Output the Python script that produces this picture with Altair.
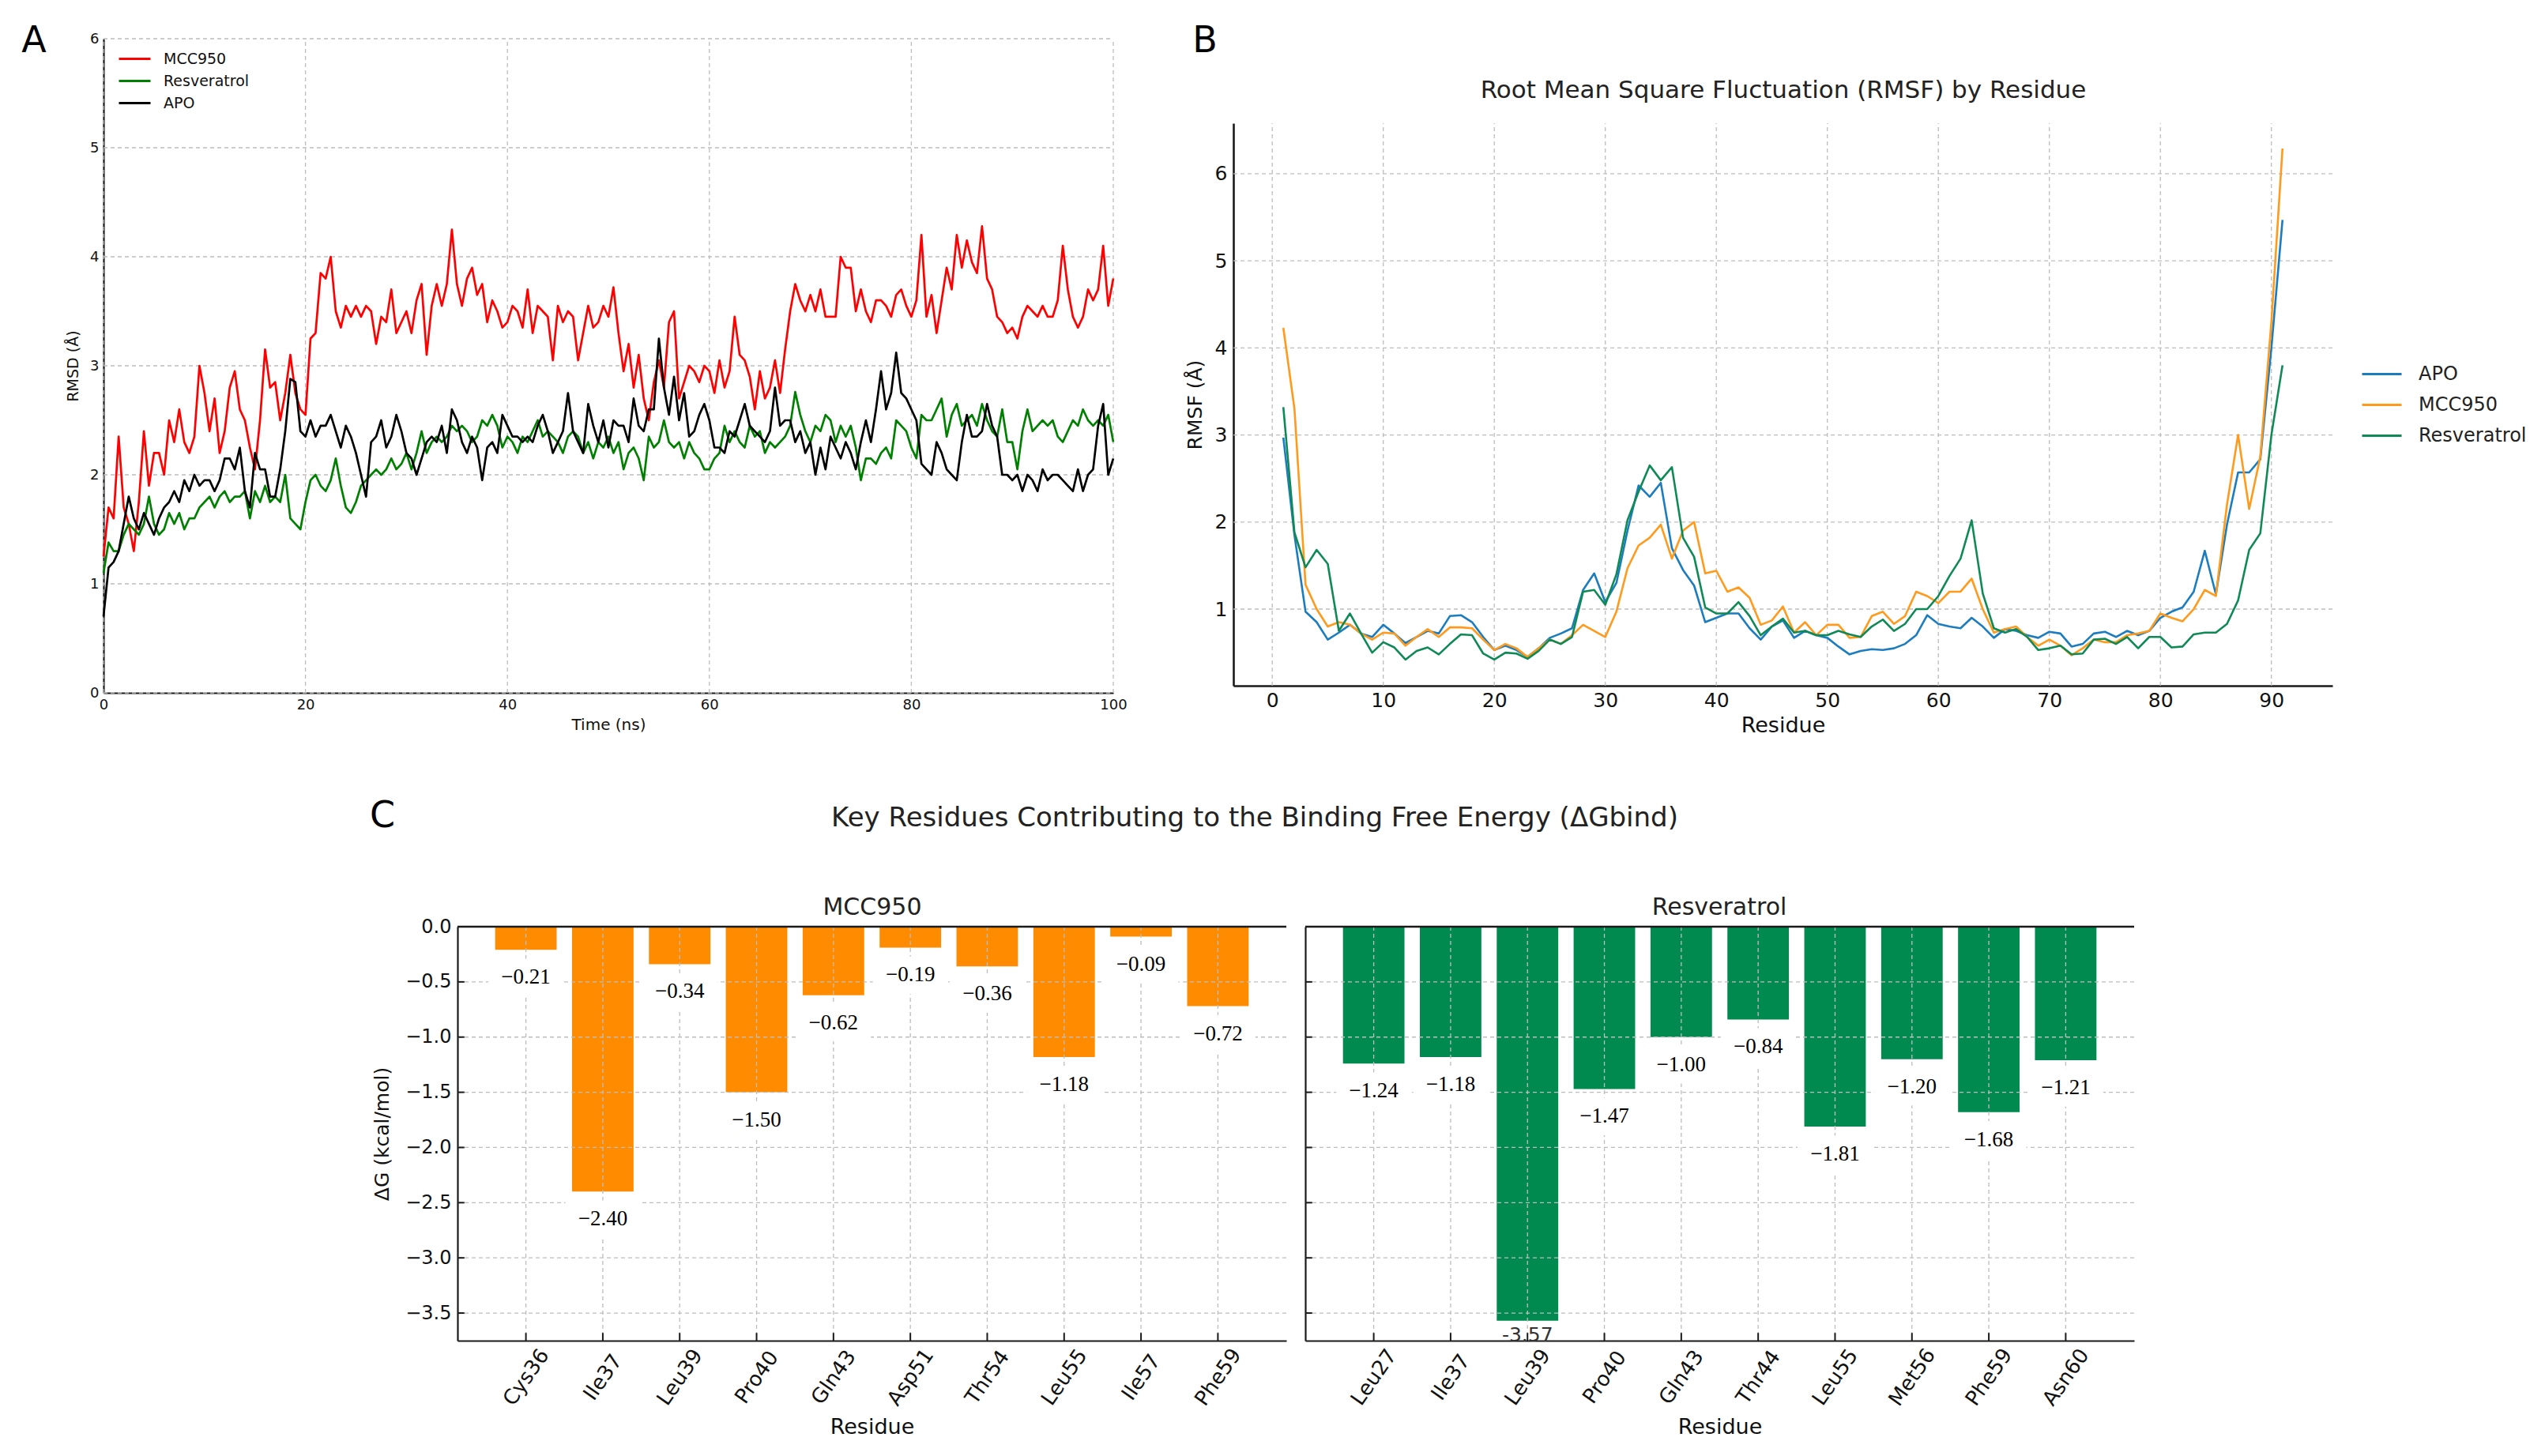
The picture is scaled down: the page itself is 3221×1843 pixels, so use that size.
import altair as alt
import pandas as pd

W, H = 3205, 1818
FONT = "DejaVu Sans"
SERIF = "Liberation Serif"
GRID = "#bdbdbd"

# ---------------- Panel A : RMSD time series (0.5 ns sampling) ----------------
rmsd_step_ns = 0.5
rmsd_mcc950 = [
    1.25, 1.7, 1.6, 2.35, 1.7, 1.55, 1.3, 1.75, 2.4, 1.9,
    2.2, 2.2, 2.0, 2.5, 2.3, 2.6, 2.3, 2.2, 2.35, 3.0,
    2.75, 2.4, 2.7, 2.2, 2.4, 2.8, 2.95, 2.6, 2.5, 2.25,
    2.05, 2.5, 3.15, 2.8, 2.85, 2.5, 2.75, 3.1, 2.75, 2.6,
    2.55, 3.25, 3.3, 3.85, 3.8, 4.0, 3.5, 3.35, 3.55, 3.45,
    3.55, 3.45, 3.55, 3.5, 3.2, 3.45, 3.4, 3.7, 3.3, 3.4,
    3.5, 3.3, 3.6, 3.75, 3.1, 3.55, 3.75, 3.55, 3.75, 4.25,
    3.75, 3.55, 3.8, 3.9, 3.65, 3.75, 3.4, 3.6, 3.5, 3.35,
    3.4, 3.55, 3.5, 3.35, 3.7, 3.3, 3.55, 3.5, 3.45, 3.05,
    3.55, 3.4, 3.5, 3.45, 3.05, 3.3, 3.55, 3.35, 3.4, 3.55,
    3.45, 3.72, 3.3, 2.95, 3.2, 2.8, 3.1, 2.7, 2.5, 2.85,
    3.05, 2.8, 3.4, 3.5, 2.7, 2.85, 3.0, 2.95, 2.85, 3.0,
    2.95, 2.75, 3.05, 2.8, 2.95, 3.45, 3.1, 3.05, 2.9, 2.6,
    2.95, 2.7, 2.8, 3.05, 2.75, 3.15, 3.5, 3.75, 3.6, 3.5,
    3.65, 3.5, 3.7, 3.45, 3.45, 3.45, 4.0, 3.9, 3.9, 3.5,
    3.7, 3.5, 3.4, 3.6, 3.6, 3.55, 3.45, 3.65, 3.7, 3.55,
    3.45, 3.6, 4.2, 3.45, 3.65, 3.3, 3.6, 3.9, 3.7, 4.2,
    3.9, 4.15, 3.95, 3.85, 4.28, 3.8, 3.7, 3.45, 3.4, 3.3,
    3.35, 3.25, 3.45, 3.55, 3.5, 3.45, 3.55, 3.45, 3.45, 3.6,
    4.1, 3.7, 3.45, 3.35, 3.45, 3.7, 3.6, 3.7, 4.1, 3.55,
    3.8,
]
rmsd_resveratrol = [
    1.1, 1.38, 1.3, 1.3, 1.45, 1.55, 1.5, 1.45, 1.55, 1.8,
    1.55, 1.45, 1.5, 1.65, 1.55, 1.65, 1.5, 1.6, 1.6, 1.7,
    1.75, 1.8, 1.7, 1.8, 1.85, 1.75, 1.8, 1.8, 1.85, 1.6,
    1.85, 1.75, 1.9, 1.75, 1.8, 1.75, 2.0, 1.6, 1.55, 1.5,
    1.75, 1.95, 2.0, 1.9, 1.85, 1.95, 2.15, 1.9, 1.7, 1.65,
    1.75, 1.9, 1.95, 2.0, 2.05, 2.0, 2.05, 2.15, 2.05, 2.1,
    2.2, 2.05, 2.2, 2.4, 2.2, 2.3, 2.35, 2.3, 2.35, 2.45,
    2.4, 2.45, 2.4, 2.3, 2.35, 2.5, 2.45, 2.55, 2.45, 2.25,
    2.35, 2.3, 2.2, 2.35, 2.3, 2.4, 2.5, 2.35, 2.4, 2.35,
    2.3, 2.2, 2.35, 2.4, 2.35, 2.2, 2.3, 2.15, 2.3, 2.25,
    2.35, 2.2, 2.3, 2.05, 2.2, 2.25, 2.15, 1.95, 2.35, 2.25,
    2.3, 2.5, 2.3, 2.25, 2.3, 2.15, 2.3, 2.2, 2.15, 2.05,
    2.05, 2.15, 2.2, 2.45, 2.3, 2.4, 2.3, 2.25, 2.45, 2.35,
    2.4, 2.2, 2.3, 2.25, 2.3, 2.35, 2.45, 2.76, 2.55, 2.4,
    2.3, 2.45, 2.4, 2.55, 2.5, 2.3, 2.45, 2.35, 2.45, 2.25,
    1.95, 2.15, 2.15, 2.1, 2.2, 2.25, 2.15, 2.5, 2.45, 2.4,
    2.25, 2.15, 2.55, 2.5, 2.5, 2.6, 2.7, 2.35, 2.55, 2.65,
    2.45, 2.5, 2.55, 2.45, 2.65, 2.5, 2.4, 2.35, 2.6, 2.3,
    2.3, 2.05, 2.4, 2.6, 2.4, 2.45, 2.5, 2.45, 2.5, 2.35,
    2.3, 2.4, 2.5, 2.45, 2.6, 2.5, 2.45, 2.5, 2.45, 2.55,
    2.3,
]
rmsd_apo = [
    0.7, 1.15, 1.2, 1.3, 1.55, 1.8, 1.6, 1.5, 1.65, 1.55,
    1.45, 1.6, 1.7, 1.75, 1.85, 1.75, 1.95, 1.85, 2.0, 1.9,
    1.95, 1.95, 1.85, 1.95, 2.15, 2.15, 2.05, 2.25, 1.85, 1.7,
    2.2, 2.05, 2.05, 1.8, 1.8, 2.05, 2.4, 2.88, 2.85, 2.4,
    2.35, 2.5, 2.35, 2.45, 2.45, 2.55, 2.4, 2.25, 2.45, 2.35,
    2.2, 2.0, 1.8, 2.3, 2.35, 2.5, 2.25, 2.35, 2.55, 2.4,
    2.2, 2.15, 2.0, 2.15, 2.3, 2.35, 2.3, 2.45, 2.2, 2.6,
    2.5, 2.3, 2.2, 2.35, 2.25, 1.95, 2.25, 2.3, 2.2, 2.55,
    2.45, 2.35, 2.35, 2.3, 2.35, 2.3, 2.45, 2.55, 2.4, 2.2,
    2.3, 2.4, 2.75, 2.4, 2.3, 2.2, 2.65, 2.45, 2.3, 2.5,
    2.25, 2.5, 2.45, 2.45, 2.3, 2.7, 2.45, 2.4, 2.6, 2.6,
    3.25, 2.8, 2.55, 2.9, 2.5, 2.75, 2.35, 2.4, 2.55, 2.65,
    2.5, 2.25, 2.25, 2.2, 2.4, 2.35, 2.5, 2.65, 2.45, 2.4,
    2.35, 2.3, 2.4, 2.8, 2.45, 2.5, 2.5, 2.3, 2.4, 2.2,
    2.3, 2.0, 2.25, 2.05, 2.35, 2.25, 2.15, 2.3, 2.2, 2.05,
    2.3, 2.5, 2.3, 2.6, 2.95, 2.6, 2.75, 3.12, 2.75, 2.7,
    2.6, 2.5, 2.1, 2.05, 2.0, 2.3, 2.2, 2.05, 2.0, 1.95,
    2.3, 2.55, 2.35, 2.35, 2.4, 2.65, 2.45, 2.35, 2.0, 2.0,
    1.95, 2.0, 1.85, 2.0, 1.95, 1.85, 2.05, 1.95, 2.0, 2.0,
    1.95, 1.9, 1.85, 2.05, 1.85, 2.0, 2.05, 2.45, 2.65, 2.0,
    2.15,
]
rmsd_series = ["MCC950", "Resveratrol", "APO"]
rmsd_colors = ["#ff0000", "#008000", "#000000"]
rmsd_xticks = [0, 20, 40, 60, 80, 100]
rmsd_yticks = [0, 1, 2, 3, 4, 5, 6]

# ---------------- Panel B : RMSF per residue (residues 1..91) ----------------
rmsf_apo = [
    2.97, 1.85, 0.97, 0.85, 0.65, 0.73, 0.82, 0.72, 0.68, 0.82,
    0.72, 0.61, 0.68, 0.75, 0.72, 0.92, 0.93, 0.85, 0.68, 0.53,
    0.58, 0.53, 0.45, 0.55, 0.67, 0.72, 0.78, 1.22, 1.41, 1.08,
    1.3, 1.9, 2.42, 2.29, 2.45, 1.7, 1.45, 1.27, 0.85, 0.9,
    0.95, 0.95, 0.78, 0.65, 0.8, 0.87, 0.67, 0.75, 0.7, 0.67,
    0.57, 0.48, 0.52, 0.54, 0.53, 0.55, 0.6, 0.7, 0.93, 0.83,
    0.8, 0.78, 0.9, 0.8, 0.67, 0.77, 0.75, 0.7, 0.67, 0.74,
    0.72, 0.57, 0.6, 0.72, 0.74, 0.68, 0.75, 0.7, 0.75, 0.9,
    0.97, 1.02, 1.2, 1.67, 1.17, 1.97, 2.57, 2.57, 2.72, 4.0,
    5.47,
]
rmsf_mcc950 = [
    4.23, 3.3, 1.28, 1.0, 0.8, 0.85, 0.82, 0.72, 0.65, 0.73,
    0.72, 0.58, 0.68, 0.77, 0.68, 0.79, 0.79, 0.78, 0.65, 0.53,
    0.6, 0.55, 0.45, 0.55, 0.65, 0.6, 0.7, 0.82, 0.75, 0.68,
    0.97, 1.47, 1.73, 1.82, 1.97, 1.58, 1.9, 2.0, 1.41, 1.44,
    1.2, 1.25, 1.13, 0.82, 0.87, 1.03, 0.73, 0.85, 0.7, 0.82,
    0.82, 0.67, 0.68, 0.92, 0.97, 0.83, 0.92, 1.2, 1.15, 1.07,
    1.2, 1.2, 1.35, 1.0, 0.73, 0.77, 0.8, 0.68, 0.58, 0.65,
    0.58, 0.47, 0.55, 0.65, 0.62, 0.62, 0.7, 0.72, 0.75, 0.95,
    0.9, 0.86, 1.0, 1.22, 1.15, 2.2, 3.0, 2.15, 2.75, 4.3,
    6.29,
]
rmsf_resveratrol = [
    3.32, 1.88, 1.48, 1.68, 1.52, 0.75, 0.95, 0.72, 0.5, 0.62,
    0.56, 0.42, 0.52, 0.56, 0.48, 0.6, 0.71, 0.7, 0.49, 0.42,
    0.5, 0.49, 0.43, 0.52, 0.65, 0.6, 0.68, 1.2, 1.22, 1.05,
    1.4, 2.02, 2.35, 2.65, 2.48, 2.63, 1.82, 1.6, 1.02, 0.95,
    0.95, 1.08, 0.92, 0.7, 0.8, 0.89, 0.73, 0.75, 0.7, 0.7,
    0.75, 0.71, 0.68, 0.8, 0.88, 0.75, 0.83, 1.0, 1.0, 1.15,
    1.38, 1.58, 2.02, 1.18, 0.78, 0.73, 0.77, 0.68, 0.53, 0.55,
    0.58, 0.48, 0.49, 0.65, 0.66, 0.6, 0.68, 0.55, 0.68, 0.68,
    0.56, 0.57, 0.71, 0.73, 0.73, 0.83, 1.1, 1.68, 1.87, 3.0,
    3.8,
]
rmsf_series = ["APO", "MCC950", "Resveratrol"]
rmsf_colors = ["#1b7cc0", "#ff9a1c", "#0f8a57"]
rmsf_xticks = [0, 10, 20, 30, 40, 50, 60, 70, 80, 90]
rmsf_yticks = [1, 2, 3, 4, 5, 6]

# ---------------- Panel C : per-residue binding free energy ----------------
mcc_residues = ["Cys36", "Ile37", "Leu39", "Pro40", "Gln43", "Asp51", "Thr54", "Leu55", "Ile57", "Phe59"]
mcc_dg = [-0.21, -2.40, -0.34, -1.50, -0.62, -0.19, -0.36, -1.18, -0.09, -0.72]
res_residues = ["Leu27", "Ile37", "Leu39", "Pro40", "Gln43", "Thr44", "Leu55", "Met56", "Phe59", "Asn60"]
res_dg = [-1.24, -1.18, -3.57, -1.47, -1.00, -0.84, -1.81, -1.20, -1.68, -1.21]
dg_ticks = [-3.5, -3.0, -2.5, -2.0, -1.5, -1.0, -0.5, 0.0]
bar_colors = {"MCC950": "#ff8c00", "Resveratrol": "#008a50"}


def gaxis(**kw):
    base = dict(grid=False, domainColor="#1a1a1a", domainWidth=2.2, ticks=False,
                labelColor="#111111", titleColor="#111111", titleFontWeight="normal",
                labelFlush=False, labelOverlap=False, labelFont=FONT, titleFont=FONT)
    base.update(kw)
    return alt.Axis(**base)


def grid_rules(xs, ys, xaxis, yaxis, xticks, yticks, xdom, ydom):
    vg = alt.Chart(pd.DataFrame({"gx": xticks})).mark_rule(
        color=GRID, strokeDash=[5, 4], strokeWidth=1.3).encode(
        x=alt.X("gx:Q", scale=xs, axis=xaxis),
        y=alt.YDatum(ydom[0], scale=ys, axis=yaxis, type="quantitative"), y2=alt.datum(ydom[1]))
    hg = alt.Chart(pd.DataFrame({"gy": yticks})).mark_rule(
        color=GRID, strokeDash=[5, 4], strokeWidth=1.3).encode(
        y=alt.Y("gy:Q", scale=ys, axis=yaxis),
        x=alt.XDatum(xdom[0], scale=xs, axis=xaxis, type="quantitative"), x2=alt.datum(xdom[1]))
    return vg, hg


# ---------- Panel A ----------
A_X = [123, 1401]
A_Y = [869, 41]
rowsA = []
for name, vals in zip(rmsd_series, [rmsd_mcc950, rmsd_resveratrol, rmsd_apo]):
    for i, v in enumerate(vals):
        rowsA.append({"t": i * rmsd_step_ns, "rmsd": v, "series": name})
dfA = pd.DataFrame(rowsA)

xsA = alt.Scale(domain=[0, 100], range=A_X, nice=False, zero=False)
ysA = alt.Scale(domain=[0, 6], range=A_Y, nice=False, zero=False)
xaxA = gaxis(title="Time (ns)", orient="bottom", values=rmsd_xticks, format="d",
             labelFontSize=18, titleFontSize=20, labelPadding=6, titlePadding=6, offset=A_Y[0] - H)
yaxA = gaxis(title="RMSD (Å)", orient="left", values=rmsd_yticks, format="d",
             labelFontSize=18, titleFontSize=19, labelPadding=6, titlePadding=11, offset=-A_X[0])
vgA, hgA = grid_rules(xsA, ysA, xaxA, yaxA, rmsd_xticks, rmsd_yticks, [0, 100], [0, 6])
LEG_LINE = "M-1.6,0L1.6,0"
linesA = alt.Chart(dfA).mark_line(strokeWidth=2.7, strokeJoin="round").encode(
    x=alt.X("t:Q", scale=xsA, axis=xaxA),
    y=alt.Y("rmsd:Q", scale=ysA, axis=yaxA),
    color=alt.Color("series:N", scale=alt.Scale(domain=rmsd_series, range=rmsd_colors),
                    legend=alt.Legend(orient="none", legendX=148, legendY=52, title=None,
                                      labelFontSize=19, labelFont=FONT, labelColor="#111111",
                                      symbolType=LEG_LINE, symbolSize=625, symbolStrokeWidth=3.2,
                                      labelOffset=22, rowPadding=3, padding=0)),
)
panelA = alt.layer(vgA, hgA, linesA)

# ---------- Panel B ----------
B_X = [1553, 2944]
B_Y = [860, 148]
rowsB = []
for name, vals in zip(rmsf_series, [rmsf_apo, rmsf_mcc950, rmsf_resveratrol]):
    for i, v in enumerate(vals):
        rowsB.append({"residue": i + 1, "rmsf": v, "series": name})
dfB = pd.DataFrame(rowsB)

xsB = alt.Scale(domain=[-3.5, 95.5], range=B_X, nice=False, zero=False)
ysB = alt.Scale(domain=[0.12, 6.58], range=B_Y, nice=False, zero=False)
xaxB = gaxis(title="Residue", orient="bottom", values=rmsf_xticks, format="d",
             labelFontSize=25, titleFontSize=27, labelPadding=6, titlePadding=6,
             domainWidth=2.6, offset=B_Y[0] - H)
yaxB = gaxis(title="RMSF (Å)", orient="left", values=rmsf_yticks, format="d",
             labelFontSize=25, titleFontSize=25, labelPadding=8, titlePadding=12,
             domainWidth=2.6, offset=-B_X[0])
vgB, hgB = grid_rules(xsB, ysB, xaxB, yaxB, rmsf_xticks, rmsf_yticks, [-3.5, 95.5], [0.12, 6.58])
linesB = alt.Chart(dfB).mark_line(strokeWidth=2.6, strokeJoin="round").encode(
    x=alt.X("residue:Q", scale=xsB, axis=xaxB),
    y=alt.Y("rmsf:Q", scale=ysB, axis=yaxB),
    color=alt.Color("series:N", scale=alt.Scale(domain=rmsf_series, range=rmsf_colors),
                    legend=alt.Legend(orient="none", legendX=2980, legendY=439, title=None,
                                      labelFontSize=24, labelFont=FONT, labelColor="#222222",
                                      symbolType="stroke", symbolSize=2500, symbolStrokeWidth=3,
                                      labelOffset=20, rowPadding=-3, padding=0)),
)
panelB = alt.layer(vgB, hgB, linesB)

# ---------- Panel C ----------
XMIN, XMAX = -0.89, 9.89
YMIN, YMAX = -3.75, 0.0
C_TOP, C_BOT = 1165, 1689
RECT = "M-1,-0.5L1,-0.5L1,0.5L-1,0.5Z"


def panel_c(residues, values, color, xrange, show_y):
    df = pd.DataFrame({"idx": list(range(len(residues))), "residue": residues, "value": values})
    df_ticks = pd.DataFrame({"v": dg_ticks})
    label_expr = "[" + ",".join("'%s'" % r for r in residues) + "][datum.value]"
    xs = alt.Scale(domain=[XMIN, XMAX], range=xrange, nice=False, zero=False)
    ys = alt.Scale(domain=[YMIN, YMAX], range=[C_BOT, C_TOP], nice=False, zero=False)
    xaxis = gaxis(title="Residue", orient="bottom", values=list(range(len(residues))),
                  labelExpr=label_expr, labelAngle=305, labelAlign="center", labelBaseline="middle",
                  labelFontSize=26, titleFontSize=27, labelPadding=46, titlePadding=10,
                  offset=C_BOT - H)
    if show_y:
        yaxis = gaxis(title="ΔG (kcal/mol)", orient="left", values=dg_ticks, format=".1f",
                      labelFontSize=24, titleFontSize=25, labelPadding=8, titlePadding=16,
                      offset=-xrange[0])
    else:
        yaxis = gaxis(title=None, orient="left", values=dg_ticks, labels=False,
                      offset=-xrange[0])

    base = alt.Chart(df)
    bars = base.transform_calculate(x0="datum.idx - 0.4", x1="datum.idx + 0.4").mark_bar(
        color=color, opacity=1, strokeWidth=0).encode(
        x=alt.X("x0:Q", scale=xs, axis=xaxis), x2="x1:Q",
        y=alt.Y("value:Q", scale=ys, axis=yaxis), y2=alt.datum(0))
    vgrid = base.mark_rule(color=GRID, strokeDash=[5, 4], strokeWidth=1.3).encode(
        x=alt.X("idx:Q", scale=xs, axis=xaxis),
        y=alt.YDatum(YMAX, scale=ys, axis=yaxis, type="quantitative"), y2=alt.datum(YMIN))
    hgrid = alt.Chart(df_ticks).mark_rule(color=GRID, strokeDash=[5, 4], strokeWidth=1.3).encode(
        y=alt.Y("v:Q", scale=ys, axis=yaxis),
        x=alt.XDatum(XMIN, scale=xs, axis=xaxis, type="quantitative"), x2=alt.datum(XMAX))
    top = alt.Chart(df_ticks).transform_filter("datum.v == 0").mark_rule(
        color="#1a1a1a", strokeWidth=2.4).encode(
        y=alt.Y("v:Q", scale=ys, axis=yaxis),
        x=alt.XDatum(XMIN, scale=xs, axis=xaxis, type="quantitative"), x2=alt.datum(XMAX))
    # inward tick marks (matplotlib 'in' direction)
    xticks_in = base.mark_rule(color="#1a1a1a", strokeWidth=2).encode(
        x=alt.X("idx:Q", scale=xs, axis=xaxis),
        y=alt.YDatum(YMIN, scale=ys, axis=yaxis, type="quantitative"), y2=alt.datum(YMIN + 0.07))
    yticks_in = alt.Chart(df_ticks).mark_rule(color="#1a1a1a", strokeWidth=2).encode(
        y=alt.Y("v:Q", scale=ys, axis=yaxis),
        x=alt.XDatum(XMIN, scale=xs, axis=xaxis, type="quantitative"), x2=alt.datum(XMIN + 0.09))
    lab = base.transform_calculate(ly="max(datum.value - 0.25, -3.70)")
    normal = lab.transform_filter("datum.value - 0.25 >= -3.75")
    clipped = lab.transform_filter("datum.value - 0.25 < -3.75")
    boxes = normal.mark_point(shape=RECT, filled=True, color="white", opacity=1, size=9000,
                              strokeWidth=0).encode(
        x=alt.X("idx:Q", scale=xs, axis=xaxis), y=alt.Y("ly:Q", scale=ys, axis=yaxis))
    texts = normal.mark_text(font=SERIF, fontSize=27, color="#000000", align="center",
                             baseline="middle").encode(
        x=alt.X("idx:Q", scale=xs, axis=xaxis), y=alt.Y("ly:Q", scale=ys, axis=yaxis),
        text=alt.Text("value:Q", format=".2f"))
    texts2 = clipped.transform_calculate(
        lbl="'-' + format(abs(datum.value), '.2f')").mark_text(
        font=FONT, fontSize=25, color="#333333", align="center", baseline="middle").encode(
        x=alt.X("idx:Q", scale=xs, axis=xaxis), y=alt.Y("ly:Q", scale=ys, axis=yaxis),
        text="lbl:N")
    return alt.layer(bars, vgrid, hgrid, top, xticks_in, yticks_in, boxes, texts, texts2)


panelC1 = panel_c(mcc_residues, mcc_dg, bar_colors["MCC950"], [571, 1620], True)
panelC2 = panel_c(res_residues, res_dg, bar_colors["Resveratrol"], [1644, 2693], False)

# ---------- text annotations ----------
one = pd.DataFrame({"k": [0]})


def note(txt, x, y, size, font=FONT, color="#000000"):
    return alt.Chart(one).mark_text(text=txt, font=font, fontSize=size, color=color,
                                    align="center", baseline="middle").encode(
        x=alt.value(x), y=alt.value(y))


notes = [
    note("A", 35, 44, 46),
    note("B", 1517, 44, 46),
    note("C", 476, 1025, 46),
    note("Root Mean Square Fluctuation (RMSF) by Residue", 2249, 107, 31, color="#222222"),
    note("Key Residues Contributing to the Binding Free Energy (ΔGbind)", 1580, 1028, 34, color="#222222"),
    note("MCC950", 1096, 1141, 30, color="#222222"),
    note("Resveratrol", 2168, 1141, 30, color="#222222"),
]

chart = alt.layer(panelA, panelB, panelC1, panelC2, *notes).resolve_scale(
    x="independent", y="independent", color="independent"
).properties(
    width=W, height=H, padding=0, autosize=alt.AutoSizeParams(type="none")
).configure(font=FONT).configure_view(stroke=None)

chart.save("out.html", embed_options={"renderer": "svg", "actions": False})
